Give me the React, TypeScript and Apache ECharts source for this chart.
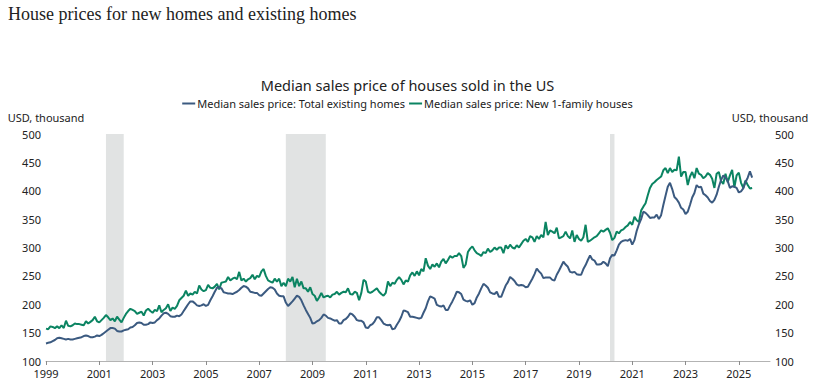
import React, { useEffect, useRef } from "react";
import * as echarts from "echarts";

const START_YEAR = 1999;

// Median sales price: Total existing homes (USD thousand), monthly from Jan 1999
const existingHomes: number[] = [
  131, 132, 133, 135, 137, 140, 141, 140, 139, 138, 139, 138,
  138, 139, 140, 141, 142, 144, 145, 144, 142, 142, 143, 145,
  144, 146, 149, 152, 155, 158, 158, 157, 153, 152, 152, 154,
  155, 156, 159, 160, 163, 167, 168, 167, 164, 164, 165, 168,
  167, 168, 172, 175, 180, 184, 185, 183, 179, 178, 178, 180,
  179, 182, 188, 194, 200, 205, 205, 202, 198, 197, 198, 200,
  197, 199, 207, 214, 222, 229, 230, 228, 221, 220, 219, 219,
  218, 220, 222, 225, 229, 232, 231, 228, 222, 221, 220, 220,
  216, 215, 219, 223, 227, 230, 229, 226, 219, 215, 214, 214,
  203, 197, 201, 205, 210, 215, 213, 207, 198, 190, 183, 176,
  166, 167, 170, 172, 176, 182, 180, 176, 175, 173, 171, 172,
  166, 166, 172, 174, 178, 184, 182, 178, 172, 171, 171, 168,
  159, 158, 163, 165, 170, 177, 177, 172, 166, 164, 163, 164,
  156, 157, 164, 170, 178, 189, 188, 186, 178, 178, 177, 176,
  175, 176, 185, 193, 205, 214, 212, 210, 199, 197, 196, 198,
  190, 190, 198, 205, 213, 222, 221, 218, 208, 206, 205, 207,
  199, 202, 212, 219, 228, 236, 233, 229, 221, 219, 218, 222,
  213, 213, 223, 233, 239, 248, 245, 241, 235, 233, 234, 233,
  230, 231, 238, 245, 253, 263, 258, 254, 246, 247, 247, 247,
  243, 242, 252, 259, 267, 275, 270, 266, 257, 256, 257, 253,
  252, 252, 262, 269, 278, 286, 279, 277, 270, 270, 271, 275,
  272, 267, 281, 287, 286, 295, 305, 310, 312, 313, 312, 315,
  305, 313, 329, 341, 350, 363, 361, 357, 352, 353, 353, 358,
  350, 357, 375, 391, 407, 414, 403, 389, 385, 379, 370, 367,
  359, 363, 375, 388, 396, 410, 406, 407, 395, 392, 388, 382,
  379, 384, 393, 407, 419, 427, 423, 417, 405, 408, 407, 405,
  397, 399, 404, 415, 423, 434, 423,
];

// Median sales price: New 1-family houses (USD thousand), monthly from Jan 1999
const newHomes: number[] = [
  157, 156, 161, 160, 158, 161, 158, 163, 158, 171, 162, 161,
  163, 166, 165, 165, 164, 163, 170, 166, 169, 172, 178, 170,
  168, 172, 176, 181, 177, 172, 175, 170, 178, 173, 168, 176,
  183, 188, 192, 190, 188, 183, 185, 187, 180, 189, 192, 188,
  185, 190, 188, 198, 186, 190, 193, 200, 188, 194, 192, 197,
  207, 211, 215, 224, 215, 219, 217, 222, 219, 233, 226, 223,
  225, 234, 229, 228, 231, 236, 226, 238, 239, 240, 248, 242,
  245, 247, 244, 257, 242, 245, 240, 244, 246, 252, 244, 250,
  248, 258, 262, 250, 242, 240, 238, 245, 240, 245, 232, 238,
  232, 245, 240, 248, 230, 245, 232, 240, 228, 228, 222, 230,
  218, 215, 206, 212, 220, 212, 214, 215, 212, 217, 218, 222,
  217, 220, 222, 221, 228, 218, 217, 222, 220, 207, 220, 243,
  240, 222, 220, 222, 225, 228, 222, 218, 215, 220, 240, 232,
  238, 236, 243, 248, 243, 235, 242, 240, 251, 256, 250, 258,
  251, 262, 258, 281, 268, 262, 270, 266, 272, 265, 275, 280,
  272, 278, 285, 282, 285, 285, 290, 285, 264, 270, 292, 298,
  302, 295, 290, 288, 285, 292, 290, 298, 292, 295, 300, 296,
  300, 300, 290, 304, 298, 305, 300, 298, 304, 300, 306, 312,
  315, 310, 320, 318, 310, 320, 315, 322, 318, 345, 322, 330,
  328, 325, 335, 316, 318, 320, 328, 320, 316, 330, 310, 322,
  315, 312, 318, 340, 310, 312, 315, 318, 320, 325, 330, 328,
  331, 334, 326, 313, 317, 328, 325, 330, 332, 336, 339, 345,
  340, 354, 348, 345, 365, 372, 378, 392, 405, 412, 415, 419,
  422, 425, 436, 440, 431, 440, 433, 437, 436, 460, 425, 433,
  433, 410, 425, 433, 422, 440, 430, 428, 422, 425, 431, 428,
  421, 405, 430, 433, 417, 412, 430, 415, 427, 437, 406, 427,
  432, 414, 405, 418, 410, 404, 405,
];

// NBER recessions (start month, end month)
const recessions: [string, string][] = [
  ["2001-04", "2001-11"],
  ["2008-01", "2009-06"],
  ["2020-03", "2020-04"],
];

const xTickYears: number[] = [1999, 2001, 2003, 2005, 2007, 2009, 2011, 2013, 2015, 2017, 2019, 2021, 2023, 2025];

const PAGE_TITLE = "House prices for new homes and existing homes";
const CHART_TITLE = "Median sales price of houses sold in the US";
const SERIES_EXISTING = "Median sales price: Total existing homes";
const SERIES_NEW = "Median sales price: New 1-family houses";
const Y_NAME = "USD, thousand";

const BLUE = "#3b5a80";
const GREEN = "#0b8462";
const FONT = "'Segoe UI', 'Noto Sans', sans-serif";

const monthStart = (ym: string) => {
  const [y, m] = ym.split("-").map(Number);
  return y + (m - 1) / 12;
};
const monthEnd = (ym: string) => {
  const [y, m] = ym.split("-").map(Number);
  return y + m / 12;
};

export default function App() {
  const ref = useRef<HTMLDivElement>(null);
  useEffect(() => {
    if (!ref.current) return;
    const chart = echarts.init(ref.current, undefined, { renderer: "svg" });
    const toPairs = (arr: number[]) => arr.map((v, i) => [START_YEAR + i / 12, v]);
    const yAxisCommon = {
      type: "value" as const,
      min: 100,
      max: 500,
      interval: 50,
      name: Y_NAME,
      nameLocation: "end" as const,
      nameGap: 11,
      nameTextStyle: { color: "#222", fontSize: 11, fontFamily: FONT },
      axisLine: { show: false },
      axisTick: { show: false },
      splitLine: { show: false },
      axisLabel: { color: "#222", fontSize: 11, fontFamily: FONT, margin: 5 },
    };
    chart.setOption({
      animation: false,
      backgroundColor: "#ffffff",
      title: [
        {
          text: PAGE_TITLE,
          left: 8,
          top: 5,
          padding: 0,
          textStyle: { fontFamily: "'Liberation Serif', serif", fontWeight: "normal", fontSize: 18, color: "#222" },
        },
        {
          text: CHART_TITLE,
          left: "center",
          top: 77,
          padding: 0,
          textStyle: { fontFamily: FONT, fontWeight: "normal", fontSize: 14.5, color: "#222" },
        },
      ],
      legend: {
        top: 98,
        left: "center",
        padding: 0,
        icon: "rect",
        itemWidth: 13,
        itemHeight: 2,
        itemGap: 4,
        textStyle: { fontFamily: FONT, fontSize: 11, color: "#222", padding: [0, 0, 0, -3] },
        data: [SERIES_EXISTING, SERIES_NEW],
      },
      grid: { left: 46, right: 45, top: 134, bottom: 29, containLabel: false },
      xAxis: {
        type: "value",
        min: 1999,
        max: 2026.17,
        splitLine: { show: false },
        axisLine: { show: true, lineStyle: { color: "#b3b3b3", width: 1 } },
        axisTick: { show: true, length: 4, lineStyle: { color: "#8c8c8c" }, customValues: xTickYears },
        axisLabel: {
          color: "#222",
          fontSize: 11,
          fontFamily: FONT,
          margin: 7,
          customValues: xTickYears,
          formatter: (v: number) => String(Math.round(v)),
        },
      },
      yAxis: [
        { ...yAxisCommon, position: "left" },
        { ...yAxisCommon, position: "right" },
      ],
      series: [
        {
          name: SERIES_EXISTING,
          type: "line",
          data: toPairs(existingHomes),
          showSymbol: false,
          symbol: "none",
          lineStyle: { color: BLUE, width: 2 },
          itemStyle: { color: BLUE },
          z: 3,
          markArea: {
            silent: true,
            itemStyle: { color: "#e1e3e3" },
            data: recessions.map(([s, e]) => [{ xAxis: monthStart(s) }, { xAxis: monthEnd(e) }]),
          },
        },
        {
          name: SERIES_NEW,
          type: "line",
          data: toPairs(newHomes),
          showSymbol: false,
          symbol: "none",
          lineStyle: { color: GREEN, width: 2 },
          itemStyle: { color: GREEN },
          z: 2,
        },
      ],
    });
    return () => chart.dispose();
  }, []);
  return (
    <div
      ref={ref}
      style={{ position: "fixed", left: 0, top: 0, width: 815, height: 390, background: "#fff" }}
    />
  );
}
